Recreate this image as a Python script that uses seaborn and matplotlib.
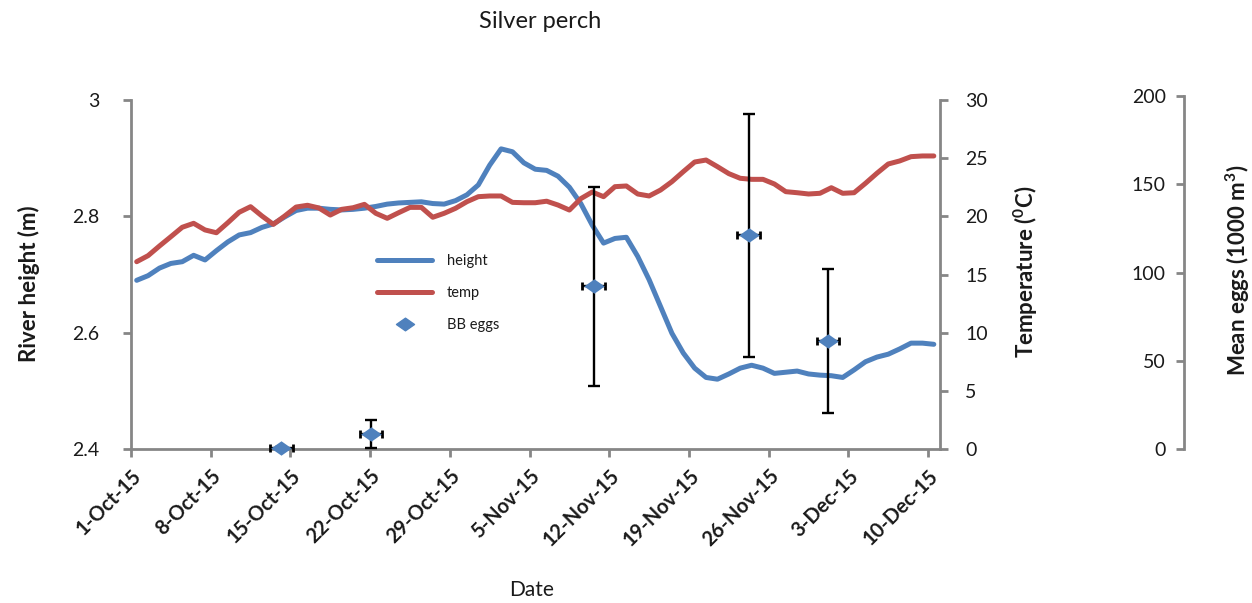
import matplotlib
matplotlib.use("Agg")
import numpy as np
import pandas as pd
import matplotlib.pyplot as plt
from matplotlib.lines import Line2D
from matplotlib.path import Path
import seaborn as sns

# Daily river height (m) and water temperature (deg C), 1 Oct - 10 Dec 2015
start_date = "2015-10-01"
n_days = 71
height_m = [
    2.690, 2.698, 2.711, 2.719, 2.722, 2.733, 2.725, 2.741, 2.756, 2.768,
    2.772, 2.781, 2.787, 2.799, 2.810, 2.814, 2.814, 2.812, 2.811, 2.812,
    2.814, 2.817, 2.821, 2.823, 2.824, 2.825, 2.822, 2.821, 2.827, 2.837,
    2.854, 2.888, 2.916, 2.911, 2.892, 2.881, 2.879, 2.869, 2.850, 2.822,
    2.785, 2.754, 2.762, 2.764, 2.731, 2.691, 2.645, 2.599, 2.565, 2.539,
    2.523, 2.520, 2.529, 2.539, 2.544, 2.539, 2.530, 2.532, 2.534, 2.529,
    2.527, 2.526, 2.523, 2.536, 2.550, 2.558, 2.563, 2.572, 2.582, 2.582,
    2.580,
]
temp_c = [
    16.10, 16.62, 17.45, 18.25, 19.06, 19.40, 18.83, 18.59, 19.45, 20.35,
    20.83, 20.03, 19.31, 20.03, 20.80, 20.95, 20.72, 20.11, 20.60, 20.74,
    21.03, 20.26, 19.83, 20.31, 20.77, 20.77, 19.92, 20.26, 20.69, 21.26,
    21.69, 21.75, 21.75, 21.20, 21.17, 21.17, 21.30, 20.97, 20.54, 21.52,
    22.09, 21.69, 22.55, 22.61, 21.92, 21.75, 22.26, 22.98, 23.84, 24.67,
    24.84, 24.27, 23.67, 23.27, 23.18, 23.18, 22.78, 22.12, 22.03, 21.92,
    21.98, 22.46, 21.98, 22.03, 22.84, 23.70, 24.50, 24.76, 25.13, 25.19,
    25.19,
]

# Silver perch (BB) egg sampling: mean eggs per 1000 m3 with error
egg_dates = ["2015-10-14 05:00", "2015-10-22 02:00", "2015-11-10 15:00",
             "2015-11-24 06:00", "2015-12-01 05:00"]
egg_mean = [0.5, 8.4, 92.1, 121.0, 61.4]
egg_err = [0.5, 8.0, 56.2, 68.7, 40.8]
egg_date_err_days = 1.0

blue = "#4F81BD"
red = "#C0504D"
grey = "#868686"
ink = "#1a1a1a"

sns.set_theme(style="white")
plt.rcParams["font.family"] = ["Lato", "DejaVu Sans"]
plt.rcParams["mathtext.fontset"] = "custom"
plt.rcParams["mathtext.rm"] = "Lato"
plt.rcParams["mathtext.bf"] = "Lato:bold"

days = pd.date_range(start_date, periods=n_days, freq="D")
flow = pd.DataFrame({
    "date": days + pd.Timedelta(hours=12),
    "height": height_m,
    "temp": temp_c,
})
eggs = pd.DataFrame({
    "date": pd.to_datetime(egg_dates),
    "mean": egg_mean,
    "err": egg_err,
})

W, H = 1252, 603
L, R, T, B = 131, 939.5, 100, 449
fig = plt.figure(figsize=(W / 100, H / 100), dpi=100)
ax = fig.add_axes([L / W, 1 - B / H, (R - L) / W, (B - T) / H])
ax2 = ax.twinx()
ax3 = fig.add_axes([L / W, 1 - B / H, (R - L) / W, (B - 96) / H])

xmin = pd.Timestamp(start_date)
xmax = xmin + pd.Timedelta(days=n_days)

# river height and temperature lines
sns.lineplot(data=flow, x="date", y="height", ax=ax, color=blue, lw=3.6,
             solid_capstyle="round", legend=False)
sns.lineplot(data=flow, x="date", y="temp", ax=ax2, color=red, lw=3.6,
             solid_capstyle="round", legend=False)

ax.set_xlim(xmin, xmax)
ax.set_ylim(2.4, 3.0)
ax.set_yticks([2.4, 2.6, 2.8, 3.0])
ax.set_yticklabels(["2.4", "2.6", "2.8", "3"])
ax2.set_ylim(0, 30)
ax2.set_yticks(range(0, 31, 5))

ticks = [xmin + pd.Timedelta(days=7 * k) for k in range(11)]
ax.set_xticks(ticks)
ax.set_xticklabels([f"{d.day}-{d.strftime('%b')}-{d.strftime('%y')}" for d in ticks],
                   rotation=45, ha="right", rotation_mode="anchor",
                   fontsize=14.5, fontweight="bold", color=ink)
ax.set_xlabel("")
ax.set_ylabel("")
ax2.set_ylabel("")

for a in (ax, ax2):
    for s in a.spines.values():
        s.set_color(grey)
        s.set_linewidth(2)
    a.spines["top"].set_visible(False)
ax.spines["right"].set_visible(False)
ax2.spines["left"].set_visible(False)
ax2.spines["bottom"].set_visible(False)

ax.tick_params(axis="both", which="major", direction="out", length=6, width=2,
               color=grey, labelcolor=ink, left=True, bottom=True)
ax.tick_params(axis="y", labelsize=14, pad=17)
ax.tick_params(axis="x", pad=6)
ax2.tick_params(axis="y", direction="out", length=6, width=2, color=grey,
                labelsize=14, labelcolor=ink, pad=12.5, right=True)

# egg abundance on its own offset axis
ax3.patch.set_visible(False)
ax3.set_xlim(xmin, xmax)
ax3.set_ylim(0, 200)
ax3.set_yticks(range(0, 201, 50))
for name, s in ax3.spines.items():
    s.set_visible(name == "left")
ax3.spines["left"].set_position(("axes", (1184 - L) / (R - L)))
ax3.spines["left"].set_color(grey)
ax3.spines["left"].set_linewidth(2)
ax3.xaxis.set_visible(False)
ax3.tick_params(axis="y", direction="out", length=6, width=2, color=grey,
                labelsize=14, labelcolor=ink, pad=7, left=True)

ax3.errorbar(eggs["date"], eggs["mean"], yerr=eggs["err"], fmt="none",
             ecolor="black", elinewidth=1.7, capsize=4.5, capthick=1.7,
             zorder=3, clip_on=False)
ax3.errorbar(eggs["date"], eggs["mean"],
             xerr=pd.Timedelta(days=egg_date_err_days), fmt="none",
             ecolor="black", elinewidth=1.7, capsize=3.2, capthick=2.0,
             zorder=3, clip_on=False)
diamond = Path([(-1, 0), (0, 0.7), (1, 0), (0, -0.7), (-1, 0)],
               [Path.MOVETO, Path.LINETO, Path.LINETO, Path.LINETO, Path.CLOSEPOLY])
sns.scatterplot(data=eggs, x="date", y="mean", ax=ax3, marker=diamond, s=220,
                color=blue, edgecolor=blue, linewidth=0, zorder=4, clip_on=False,
                legend=False)
ax3.set_xlabel("")
ax3.set_ylabel("")

handles = [
    Line2D([], [], color=blue, lw=3.6, solid_capstyle="round"),
    Line2D([], [], color=red, lw=3.6, solid_capstyle="round"),
    Line2D([], [], color=blue, marker=diamond, markersize=13, lw=0),
]
leg = ax3.legend(handles, ["height", "temp", "BB eggs"], loc="upper left",
                 bbox_to_anchor=(377 / W, 1 - 254 / H), bbox_transform=fig.transFigure,
                 frameon=False, fontsize=10.5, handlelength=3.8, handletextpad=1.0,
                 labelspacing=1.25, borderpad=0, borderaxespad=0)
for t in leg.get_texts():
    t.set_color(ink)

fig.text(540 / W, 1 - 21 / H, "Silver perch", ha="center", va="center",
         fontsize=17, color=ink)
fig.text(29 / W, 1 - 284 / H, "River height (m)", rotation=90, ha="center",
         va="center", fontsize=16, fontweight="bold", color=ink)
fig.text(1026 / W, 1 - 272 / H, r"Temperature ($\mathbf{^{0}}$C)", rotation=90,
         ha="center", va="center", fontsize=16, fontweight="bold", color=ink)
fig.text(1238 / W, 1 - 270 / H, r"Mean eggs (1000 m$\mathbf{^{3}}$)", rotation=90,
         ha="center", va="center", fontsize=16, fontweight="bold", color=ink)
fig.text(532 / W, 1 - 590 / H, "Date", ha="center", va="center",
         fontsize=15, color=ink)

fig.savefig("out.png", dpi=100, facecolor="white")
